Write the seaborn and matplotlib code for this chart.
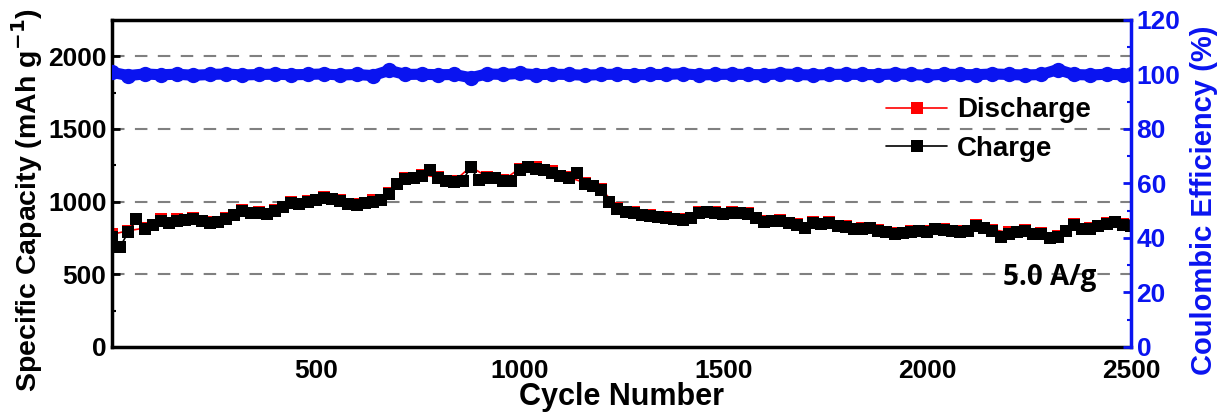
import numpy as np
import matplotlib
matplotlib.use("Agg")
import matplotlib.pyplot as plt
import seaborn as sns

# cycle numbers for charge (every 20 cycles) and discharge / CE (every 40 cycles)
cycles = list(range(0, 2501, 20))
charge = [760, 690, 790, 880, 810, 840, 870, 850, 870, 875,
          880, 865, 855, 860, 880, 905, 935, 925, 920, 915,
          935, 960, 990, 985, 995, 1010, 1025, 1020, 1005, 985,
          975, 990, 1000, 1010, 1050, 1120, 1155, 1160, 1175, 1215,
          1160, 1140, 1135, 1145, 1235, 1150, 1165, 1160, 1140, 1140,
          1220, 1235, 1225, 1215, 1200, 1175, 1160, 1195, 1120, 1105,
          1080, 1000, 950, 930, 920, 905, 900, 895, 885, 878,
          875, 890, 925, 930, 920, 915, 920, 925, 915, 890,
          860, 870, 865, 855, 840, 820, 850, 845, 850, 835,
          825, 815, 815, 820, 800, 790, 775, 785, 790, 795,
          790, 810, 805, 795, 790, 800, 830, 820, 800, 760,
          780, 790, 800, 780, 775, 750, 755, 800, 840, 810,
          815, 830, 845, 860, 840, 835]

cycles_d = list(range(0, 2481, 40)) + [2500]
discharge = [775, 800, 818, 878, 880, 888, 862, 888, 942, 928,
             942, 998, 1002, 1035, 1012, 982, 1008, 1060, 1165, 1185,
             1168, 1142, 1240, 1172, 1148, 1228, 1235, 1208, 1168, 1130,
             1090, 958, 928, 908, 892, 882, 932, 928, 928, 922,
             868, 872, 848, 858, 858, 832, 822, 808, 782, 798,
             798, 812, 798, 838, 808, 788, 808, 782, 762, 848,
             822, 852, 848, 842]

cycles_ce = list(range(0, 2481, 40)) + [2500]
ce = [100.8, 99.6, 100.2, 99.9, 100.1, 99.7, 100.0, 100.2, 99.8, 100.0,
      100.1, 99.9, 100.0, 100.2, 99.8, 100.0, 99.6, 101.5, 100.0, 100.1,
      99.9, 100.0, 98.8, 100.2, 100.0, 100.4, 99.9, 100.1, 100.0, 99.7,
      100.0, 100.1, 99.9, 100.0, 100.0, 100.3, 99.8, 100.0, 100.1, 100.0,
      99.9, 100.2, 100.0, 99.8, 100.0, 100.1, 100.0, 99.9, 100.2, 100.0,
      99.7, 100.1, 100.0, 99.9, 100.2, 100.0, 99.8, 100.0, 101.8, 100.0,
      99.8, 100.1, 99.9, 100.0]

sns.set_style("white")
plt.rcParams['font.family'] = ['Liberation Sans', 'DejaVu Sans']
plt.rcParams['text.color'] = 'black'
plt.rcParams['axes.labelcolor'] = 'black'
plt.rcParams['xtick.color'] = 'black'
plt.rcParams['ytick.color'] = 'black'

blue = '#0a14f0'

fig = plt.figure(figsize=(12.25, 4.12), dpi=100)
ax = fig.add_axes([0.0914, 0.1578, 0.8319, 0.7937])
ax2 = ax.twinx()

# capacity
sns.lineplot(x=cycles_d, y=discharge, ax=ax, color='red', marker='s', markersize=9,
             markeredgewidth=0, lw=1.2, label='Discharge')
sns.lineplot(x=cycles, y=charge, ax=ax, color='black', marker='s', markersize=9,
             markeredgewidth=0, lw=1.2, label='Charge')
# coulombic efficiency
sns.lineplot(x=cycles_ce, y=ce, ax=ax2, color=blue, marker='o', markersize=11,
             markeredgewidth=0, lw=8, legend=False)

ax.set_xlim(0, 2500)
ax.set_ylim(0, 2250)
ax2.set_ylim(0, 120)
ax.set_xticks([500, 1000, 1500, 2000, 2500])
ax.set_xticks(np.arange(250, 2500, 500), minor=True)
ax.set_yticks([0, 500, 1000, 1500, 2000])
ax.set_yticks([250, 750, 1250, 1750], minor=True)
ax2.set_yticks(range(0, 121, 20))
ax2.set_yticks(range(10, 120, 20), minor=True)

for yv in [500, 1000, 1500, 2000]:
    ax.axhline(yv, color='gray', lw=1.5, ls=(0, (6, 5)), zorder=0)

ax.tick_params(axis='both', which='major', direction='in', length=6, width=2,
               labelsize=19, pad=4)
ax.tick_params(axis='x', which='major', pad=9)
ax.tick_params(axis='both', which='minor', direction='in', length=3, width=1.5)
ax2.tick_params(axis='y', which='major', direction='in', length=6, width=2,
                colors=blue, labelsize=19, pad=4)
ax2.tick_params(axis='y', which='minor', direction='in', length=3, width=1.5,
                colors=blue)
for lab in ax.get_xticklabels() + ax.get_yticklabels() + ax2.get_yticklabels():
    lab.set_fontweight('bold')

for s in ['left', 'bottom', 'top']:
    ax.spines[s].set_linewidth(2.5)
    ax.spines[s].set_color('black')
ax.spines['right'].set_visible(False)
ax2.spines['right'].set_color(blue)
ax2.spines['right'].set_linewidth(2.5)
for s in ['left', 'bottom', 'top']:
    ax2.spines[s].set_visible(False)

ax.set_xlabel('Cycle Number', fontsize=22, fontweight='bold')
ax.xaxis.set_label_coords(0.5, -0.108)
ax.set_ylabel('Specific Capacity (mAh g$^{\\mathbf{-1}}$)', fontsize=20.5,
              fontweight='bold')
ax.yaxis.set_label_coords(-0.066, 0.45)
ax2.set_ylabel('Coulombic Efficiency (%)', fontsize=21, fontweight='bold',
               color=blue)
ax2.yaxis.set_label_coords(1.058, 0.45)

ax.legend(loc='upper right', bbox_to_anchor=(0.985, 0.84), frameon=False,
          handlelength=2.2, handletextpad=0.35, labelspacing=0.45,
          prop={'weight': 'bold', 'size': 20})

ax.text(2300, 480, '5.0 A/g', fontsize=20, fontweight='bold',
        family=['Open Sans', 'DejaVu Sans'], ha='center', va='center')

fig.savefig('out.png', dpi=100)
